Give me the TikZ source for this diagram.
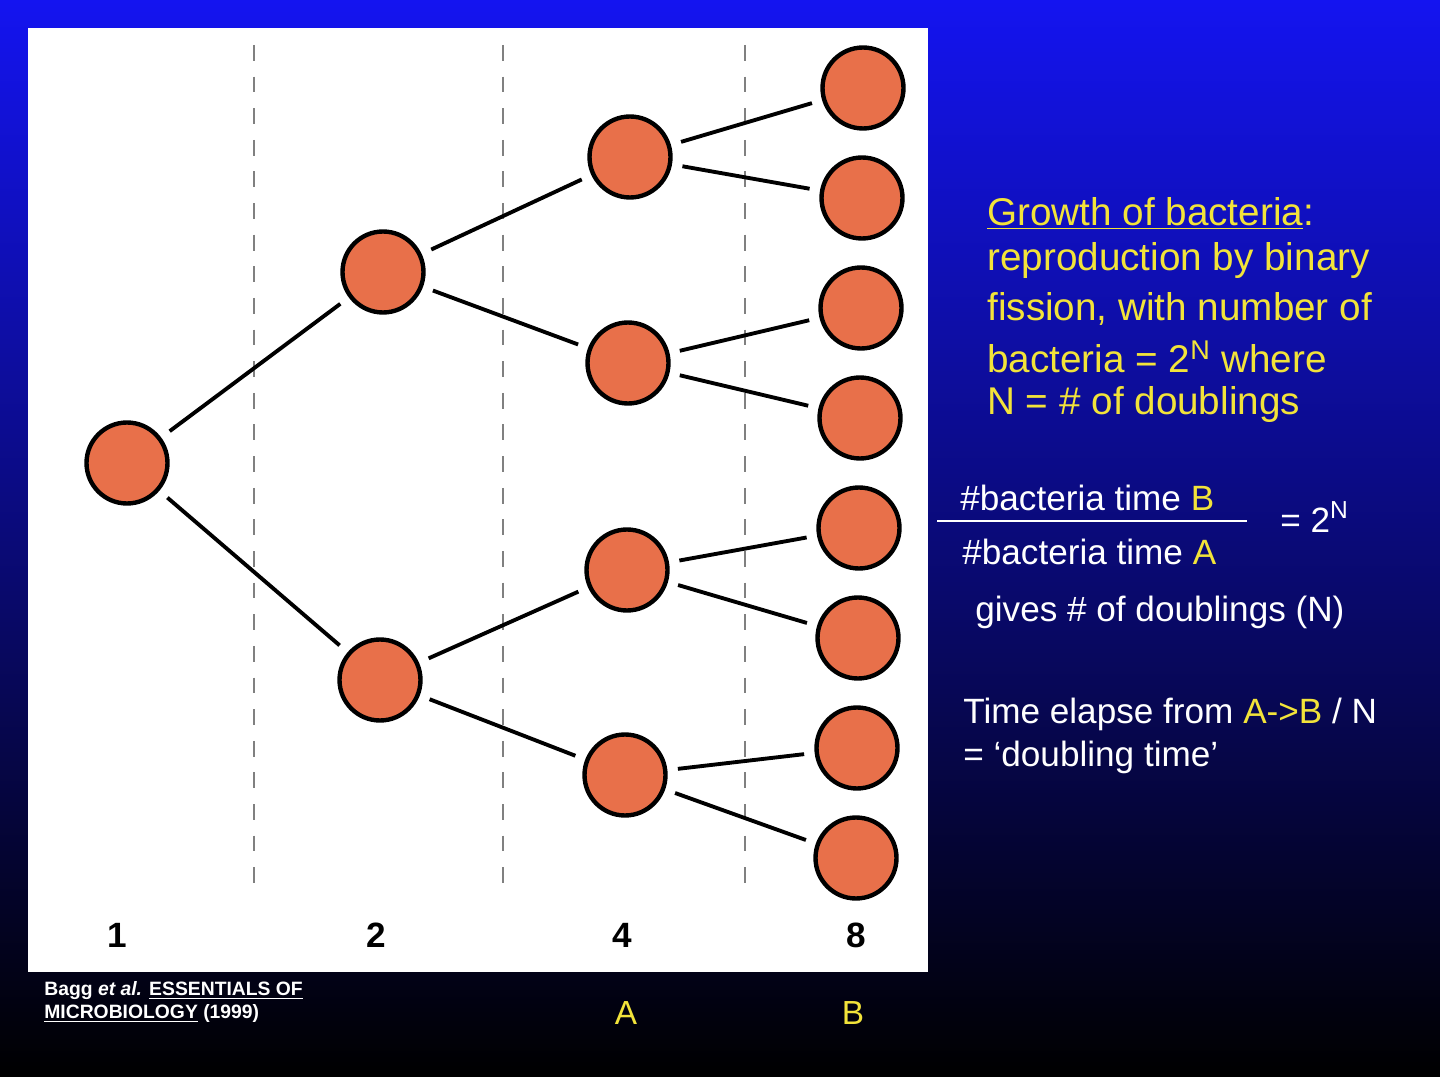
\documentclass[tikz,border=0pt]{standalone}
\usepackage{fontspec}
\setmainfont{Liberation Sans}
\begin{document}
\begin{tikzpicture}[x=0.02cm,y=-0.02cm,
  cell/.style={circle,draw=black,line width=2.5pt,fill=cellc,minimum size=1.62cm,inner sep=0pt},
  link/.style={line width=2.2pt,shorten <=6pt,shorten >=6pt},
  divider/.style={dashed,gray,line width=1pt,dash pattern=on 9pt off 9pt},
  yl/.style={text=yel},
  big/.style={font=\fontsize{22}{26}\selectfont,anchor=west,inner sep=0pt},
  mid/.style={font=\fontsize{20}{24}\selectfont,anchor=west,inner sep=0pt,text=white},
  num/.style={font=\bfseries\fontsize{20}{24}\selectfont,inner sep=0pt}]
\definecolor{cellc}{HTML}{E8704A}
\definecolor{yel}{HTML}{F2E33A}
\definecolor{topblue}{HTML}{1414F0}
\useasboundingbox (0,0) rectangle (1440,1077);
\shade[top color=topblue,bottom color=black] (0,0) rectangle (1440,1077);
\fill[white] (28,28) rectangle (928,972);
\foreach \x in {254,503,745} \draw[divider] (\x,45) -- (\x,885);
\node[cell] (c1) at (127,463) {};
\node[cell] (c2a) at (383,272) {};
\node[cell] (c2b) at (380,680) {};
\node[cell] (c4a) at (630,157) {};
\node[cell] (c4b) at (628,363) {};
\node[cell] (c4c) at (627,570) {};
\node[cell] (c4d) at (625,775) {};
\node[cell] (c8a) at (863,88) {};
\node[cell] (c8b) at (862,198) {};
\node[cell] (c8c) at (861,308) {};
\node[cell] (c8d) at (860,418) {};
\node[cell] (c8e) at (859,528) {};
\node[cell] (c8f) at (858,638) {};
\node[cell] (c8g) at (857,748) {};
\node[cell] (c8h) at (856,858) {};
\draw[link] (c1)--(c2a); \draw[link] (c1)--(c2b);
\draw[link] (c2a)--(c4a); \draw[link] (c2a)--(c4b);
\draw[link] (c2b)--(c4c); \draw[link] (c2b)--(c4d);
\draw[link] (c4a)--(c8a); \draw[link] (c4a)--(c8b);
\draw[link] (c4b)--(c8c); \draw[link] (c4b)--(c8d);
\draw[link] (c4c)--(c8e); \draw[link] (c4c)--(c8f);
\draw[link] (c4d)--(c8g); \draw[link] (c4d)--(c8h);
\node[num] (n1) at (117,935) {1};
\node[num] (n2) at (376,935) {2};
\node[num] (n4) at (622,935) {4};
\node[num] (n8) at (856,935) {8};
\node[yl,font=\fontsize{19}{20}\selectfont] (la) at (626,1013) {A};
\node[yl,font=\fontsize{19}{20}\selectfont] (lb) at (853,1013) {B};
\node[text=white,font=\bfseries\fontsize{11}{13}\selectfont,align=left,anchor=west,inner sep=0pt] (cite) at (44,1002)
  {Bagg \textit{et al.} \underline{ESSENTIALS OF}\\ \underline{MICROBIOLOGY} (1999)};
\node[big,yl] (t1) at (987,213) {\underline{Growth of bacteria}:};
\node[big,yl] (t2) at (987,261) {reproduction by binary};
\node[big,yl] (t3) at (987,309) {fission, with number of};
\node[big,yl] (t4) at (987,357) {bacteria = 2\textsuperscript{N} where};
\node[big,yl] (t5) at (987,405) {N = \# of doublings};
\node[mid] (f1) at (960,498) {\#bacteria time \textcolor{yel}{B}};
\draw[white,line width=1pt] (937,521) -- (1247,521);
\node[mid] (f2) at (962,552) {\#bacteria time \textcolor{yel}{A}};
\node[mid] (f3) at (1280,517) {= 2\textsuperscript{N}};
\node[mid] (g1) at (975,612) {gives \# of doublings (N)};
\node[mid] (h1) at (963,714) {Time elapse from \textcolor{yel}{A->B} / N};
\node[mid] (h2) at (963,757) {= `doubling time'};
\end{tikzpicture}
\end{document}
